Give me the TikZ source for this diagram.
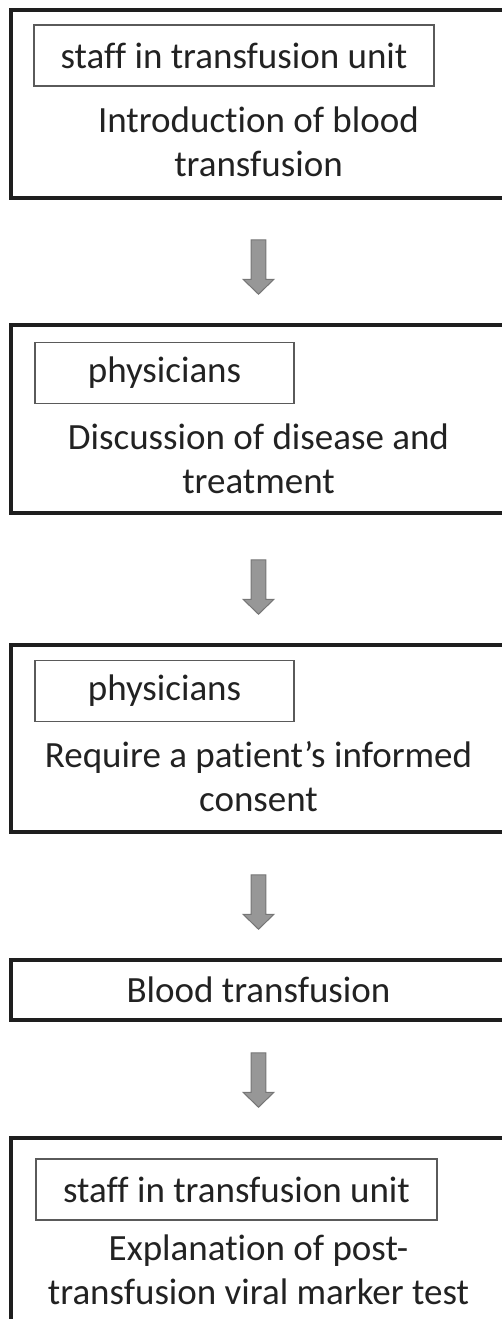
\documentclass[tikz,border=0pt]{standalone}
\usepackage{fontspec}
\setmainfont{Carlito}[Ligatures=NoCommon]
\usetikzlibrary{calc}
\definecolor{boxline}{HTML}{1E1E1E}
\definecolor{tagline}{HTML}{5A5A5A}
\definecolor{arrowgray}{HTML}{979797}
\definecolor{arrowedge}{HTML}{767676}
\definecolor{textcol}{HTML}{222222}

\begin{document}
\begin{tikzpicture}[x=0.75pt,y=-0.75pt]
      \tikzstyle outer=[draw=boxline, line width=2.6pt, minimum width=371.25pt,
      inner sep=0pt, text=textcol, font=\fontsize{27.75}{33}\selectfont]
      \tikzstyle tag=[draw=tagline, line width=0.8pt, minimum height=45.75pt,
      inner sep=0pt, text=textcol, font=\fontsize{27.75}{33}\selectfont]
      \tikzstyle desc=[align=center, inner sep=0pt, text=textcol,
      font=\fontsize{27.75}{33}\selectfont]
      \tikzstyle blockarrow=[fill=arrowgray, draw=arrowedge, line width=0.75pt,
      to path={let \p1=(\tikztotarget.north) in
      (\x1-5.6pt,\y1+62.6pt) -- (\x1+5.6pt,\y1+62.6pt) -- (\x1+5.6pt,\y1+33pt)
      -- (\x1+11.6pt,\y1+33pt) -- (\x1,\y1+21.75pt) -- (\x1-11.6pt,\y1+33pt)
      -- (\x1-5.6pt,\y1+33pt) -- cycle}]
      \useasboundingbox (0,0) rectangle (502,1319);
      \clip (0,0) rectangle (502,1319);
      % step 1
      \node [outer, minimum height=141pt] (b1) at (258.5,104) {};
      \node [tag, minimum width=300pt] (t1) at (234,55.5) {staff in transfusion unit};
      \node [desc] (d1) at (258.5,142) {Introduction of blood\\transfusion};
      % step 2
      \node [outer, minimum height=141pt] (b2) at (258.5,419) {};
      \node [tag, minimum width=194.25pt] (t2) at (164.5,373) {physicians};
      \node [desc] (d2) at (258.5,458.5) {Discussion of disease and\\treatment};
      % step 3
      \node [outer, minimum height=140.25pt] (b3) at (258.5,738.5) {};
      \node [tag, minimum width=194.25pt] (t3) at (164.5,691) {physicians};
      \node [desc] (d3) at (258.5,776.5) {Require a patient's informed\\consent};
      % step 4
      \node [outer, minimum height=45pt] (b4) at (258.5,990) {Blood transfusion};
      % step 5
      \node [outer, minimum height=150pt] (b5) at (258.5,1238) {};
      \node [tag, minimum width=300.75pt] (t5) at (236.5,1189.5) {staff in transfusion unit};
      \node [desc] (d5) at (258.5,1270) {Explanation of post-\\transfusion viral marker test};
      % arrows
      \draw [blockarrow] (b1) to (b2);
      \draw [blockarrow] (b2) to (b3);
      \draw [blockarrow] (b3) to (b4);
      \draw [blockarrow] (b4) to (b5);
    \end{tikzpicture}
\end{document}
